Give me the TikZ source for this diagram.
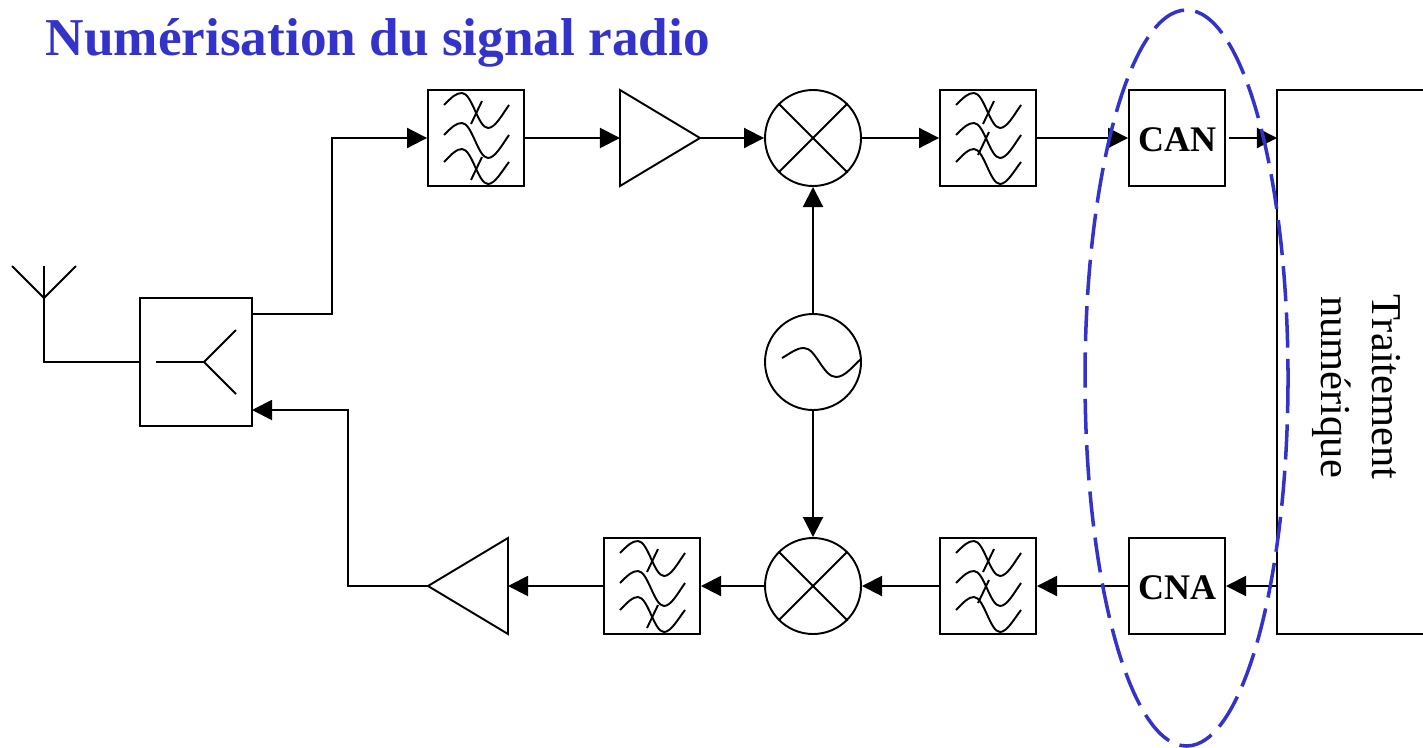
\documentclass[tikz,border=0pt]{standalone}
\usepackage{fontspec}
\setmainfont{Liberation Serif}
\usetikzlibrary{arrows.meta,shapes.geometric}
\definecolor{titleblue}{RGB}{51,51,204}
\tikzset{
    line/.style={line width=0.55pt},
    link/.style={line, -{Triangle[length=5.7pt,width=5.7pt]}},
    squarebox/.style={line, draw, fill=white, minimum size=9.6mm, inner sep=0pt},
    mixer/.style={line, draw, fill=white, circle, minimum size=9.6mm, inner sep=0pt},
    amp/.style={line, draw, fill=white, isosceles triangle, isosceles triangle stretches,
        minimum width=9.6mm, minimum height=8mm, inner sep=0pt, outer sep=0pt},
    converter/.style={squarebox, text height=7.7pt, font=\fontsize{10.25}{12}\selectfont\bfseries},
    pics/sine/.style={code={
        \draw[line] (-31,-4) .. controls (-22,-9) and (-17,-14) .. (-9,-14)
            .. controls (3,-14) and (10,15) .. (23,15)
            .. controls (32,15) and (40,4) .. (48,-3);
    }},
    pics/waves/.style 2 args={code={
        \draw[line] (-32,-33) .. controls (-24,-41) and (-20,-45) .. (-14,-45)
            .. controls (-4,-45) and (2,-10) .. (12,-10)
            .. controls (19,-10) and (26,-23) .. (33,-33);
        \draw[line] (-32,-3) .. controls (-24,-11) and (-20,-15) .. (-14,-15)
            .. controls (-4,-15) and (2,20) .. (12,20)
            .. controls (19,20) and (26,7) .. (33,-3);
        \draw[line] (-32,24) .. controls (-24,16) and (-20,11) .. (-14,11)
            .. controls (-4,11) and (2,46) .. (12,46)
            .. controls (19,46) and (26,33) .. (33,24);
        \draw[line] (-5,-14) -- (6,-37);
        \draw[line] (#1,#2) -- (#1+11,#2-23);
    }}
}
\begin{document}
\begin{tikzpicture}[x=0.1mm, y=-0.1mm]
    \useasboundingbox (0, 0) rectangle (1423, 747);
    \node[anchor=base west, inner sep=0pt, text=titleblue, font=\fontsize{15.15}{18}\selectfont\bfseries] (title) at (45, 56) {Numérisation du signal radio};
    % upper chain
    \node[squarebox] (fltup) at (476, 138) {};
    \node[amp, anchor=apex] (ampup) at (700, 138) {};
    \node[mixer] (mixup) at (813, 138) {};
    \node[squarebox] (fltcan) at (988, 138) {};
    \node[converter] (can) at (1177, 138) {CAN};
    % lower chain
    \node[converter] (cna) at (1177, 586) {CNA};
    \node[squarebox] (fltcna) at (988, 586) {};
    \node[mixer] (mixdown) at (813, 586) {};
    \node[squarebox] (fltdown) at (652, 586) {};
    \node[amp, shape border rotate=180, anchor=apex] (ampdown) at (428, 586) {};
    % oscillator
    \node[mixer] (osc) at (813, 362) {};
    % duplexer and antenna
    \node[squarebox, minimum width=11.2mm, minimum height=12.8mm] (dup) at (196, 362) {};
    \coordinate (dupin) at (140, 362);
    \coordinate (dupout) at (252, 314);
    \coordinate (dupback) at (252, 410);
    \coordinate (antfoot) at (44, 362);
    \coordinate (antroot) at (44, 298);
    % digital block
    \coordinate (dspcan) at (1277, 138);
    \coordinate (dspcna) at (1277, 586);
    \draw[line] (1423, 90) -- (1277, 90) -- (1277, 634) -- (1423, 634);
    \node[rotate=-90, align=center, font=\fontsize{12.1}{14.5}\selectfont] (dsp) at (1357, 387) {Traitement\\numérique};

    \path (fltup) pic {waves={-5}{42}};
    \path (fltdown) pic {waves={-5}{42}};
    \path (fltcan) pic {waves={-10}{17}};
    \path (fltcna) pic {waves={-10}{17}};
    \path (osc) pic {sine};

    \foreach \mix in {mixup, mixdown} {
        \draw[line] (\mix.north west) -- (\mix.south east);
        \draw[line] (\mix.north east) -- (\mix.south west);
    }
    \draw[line] (156, 362) -- (204, 362);
    \draw[line] (236, 330) -- (204, 362) -- (236, 394);
    \draw[line] (12, 266) -- (antroot) -- (76, 266);
    \draw[line] (44, 266) -- (antroot) -- (antfoot) -- (dupin);

    \draw[link] (dupout) -- (332, 314) -- (332, 138) -- (fltup.west);
    \draw[link] (fltup) -- (ampup.lower side);
    \draw[link] (ampup.apex) -- (mixup);
    \draw[link] (mixup) -- (fltcan);
    \draw[link] (fltcan) -- (can);
    \draw[link, shorten <=3*0.1mm] (can) -- (dspcan);
    \draw[link] (osc) -- (mixup);
    \draw[link] (osc) -- (mixdown);
    \draw[link] (dspcna) -- (cna);
    \draw[link] (cna) -- (fltcna);
    \draw[link] (fltcna) -- (mixdown);
    \draw[link] (mixdown) -- (fltdown);
    \draw[link] (fltdown) -- (ampdown.lower side);
    \draw[link] (ampdown.apex) -- (348, 586) -- (348, 410) -- (dupback);

    \draw[titleblue, line width=1pt, dash pattern=on 10pt off 3.2pt] (1186.5, 378) ellipse [x radius=101.5, y radius=368];
\end{tikzpicture}
\end{document}
